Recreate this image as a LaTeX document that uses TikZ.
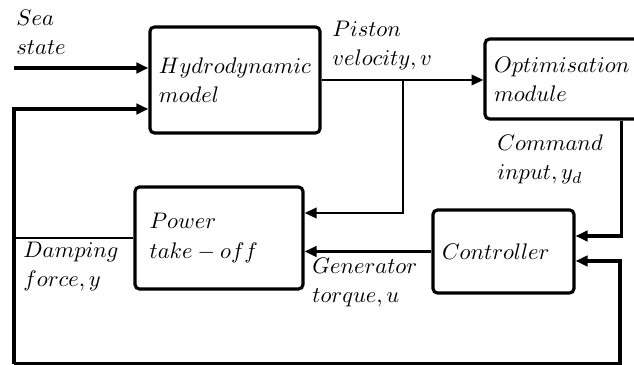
\documentclass[tikz,border=0pt]{standalone}
\usetikzlibrary{arrows.meta,calc}

\begin{document}
\begin{tikzpicture}[x=0.444pt,y=-0.444pt,font=\fontsize{10.2}{13}\selectfont,
  blk/.style={draw,line width=1.4pt,rounded corners=2pt,align=left,inner xsep=4pt},
  lbl/.style={align=left,inner sep=0pt},
  arr/.style={line width=1.35pt,-{Triangle[length=5.3pt,width=4.6pt]}},
  ln/.style={line width=0.75pt}]
  \useasboundingbox (0,0) rectangle (634,365);
  % blocks
  \node[blk,minimum width=75.5pt,minimum height=47.1pt,text width=67.5pt] (hydro) at (235,80) {$Hydrodynamic$\\$model$};
  \node[blk,minimum width=68.8pt,minimum height=35.5pt,text width=60.8pt] (optim) at (562.5,79) {$Optimisation$\\$module$};
  \node[blk,minimum width=74.6pt,minimum height=45.3pt,inner xsep=6.5pt,text width=61.6pt] (pto) at (219,238) {$Power$\\$take-off$};
  \node[blk,minimum width=62.6pt,minimum height=36.9pt,text width=54.6pt] (ctrl) at (503.5,251.5) {$Controller$};
  % signal labels (base = last line)
  \node[lbl,anchor=base west] (lsea) at (16,55) {$Sea$\\$state$};
  \node[lbl,anchor=base west] (lpis) at (332,66) {$Piston$\\$velocity, v$};
  \node[lbl,anchor=base west] (lcmd) at (497,180) {$Command$\\$input, y_d$};
  \node[lbl,anchor=base west] (ldmp) at (23,287) {$Damping$\\$force, y$};
  \node[lbl,anchor=base west] (lgen) at (312,303) {$Generator$\\$torque, u$};
  % connectors
  \coordinate (sea) at (14,68);
  \coordinate (tap) at (403,80);
  \coordinate (dmp) at (14,238);
  \coordinate (lft) at (14,364);
  \coordinate (rgt) at (620,364);
  \draw[arr] (sea) -- (sea -| hydro.west);
  \draw[arr,line width=1pt] (hydro.east) -- (hydro.east -| optim.west);
  \draw[arr,line width=1pt] (tap) |- ($(pto.east)+(0,-25)$);
  \draw[arr] (ctrl.west) -- (ctrl.west -| pto.east);
  \draw[arr] ($(optim.south east)+(-20,0)$) |- ($(ctrl.east)+(0,-15.5)$);
  \draw[ln] (pto.west) -- (dmp);
  \draw[arr] (lft) |- ($(hydro.west)+(0,29)$);
  \draw[arr] (lft) -- (rgt) |- ($(ctrl.east)+(0,9.5)$);
\end{tikzpicture}
\end{document}
